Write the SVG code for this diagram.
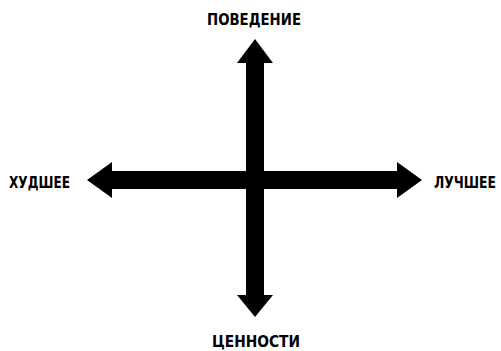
<svg xmlns="http://www.w3.org/2000/svg" width="501" height="351" viewBox="0 0 501 351">
<style>
.lbl{font-family:"DejaVu Sans Condensed","Liberation Sans",Arial,sans-serif;font-weight:bold;font-size:15px;fill:#000}
.arr{fill:#000}
</style>
<rect width="501" height="351" fill="#fff"/>
<g id="connectors">
<polygon class="arr" points="255,39 273,63 264,63 264,295 273,295 255,317 237,295 246,295 246,63 237,63"/>
<polygon class="arr" points="87,180 112,162 112,171 397,171 397,162 422,180 397,198 397,189 112,189 112,198"/>
</g>
<g id="top"><text class="lbl" x="254" y="25" text-anchor="middle" textLength="94" lengthAdjust="spacingAndGlyphs">ПОВЕДЕНИЕ</text></g>
<g id="left"><text class="lbl" x="9" y="188" textLength="61" lengthAdjust="spacingAndGlyphs">ХУДШЕЕ</text></g>
<g id="right"><text class="lbl" x="434" y="188" textLength="62" lengthAdjust="spacingAndGlyphs">ЛУЧШЕЕ</text></g>
<g id="bottom"><text class="lbl" x="256" y="347" text-anchor="middle" textLength="88" lengthAdjust="spacingAndGlyphs">ЦЕННОСТИ</text></g>
</svg>
